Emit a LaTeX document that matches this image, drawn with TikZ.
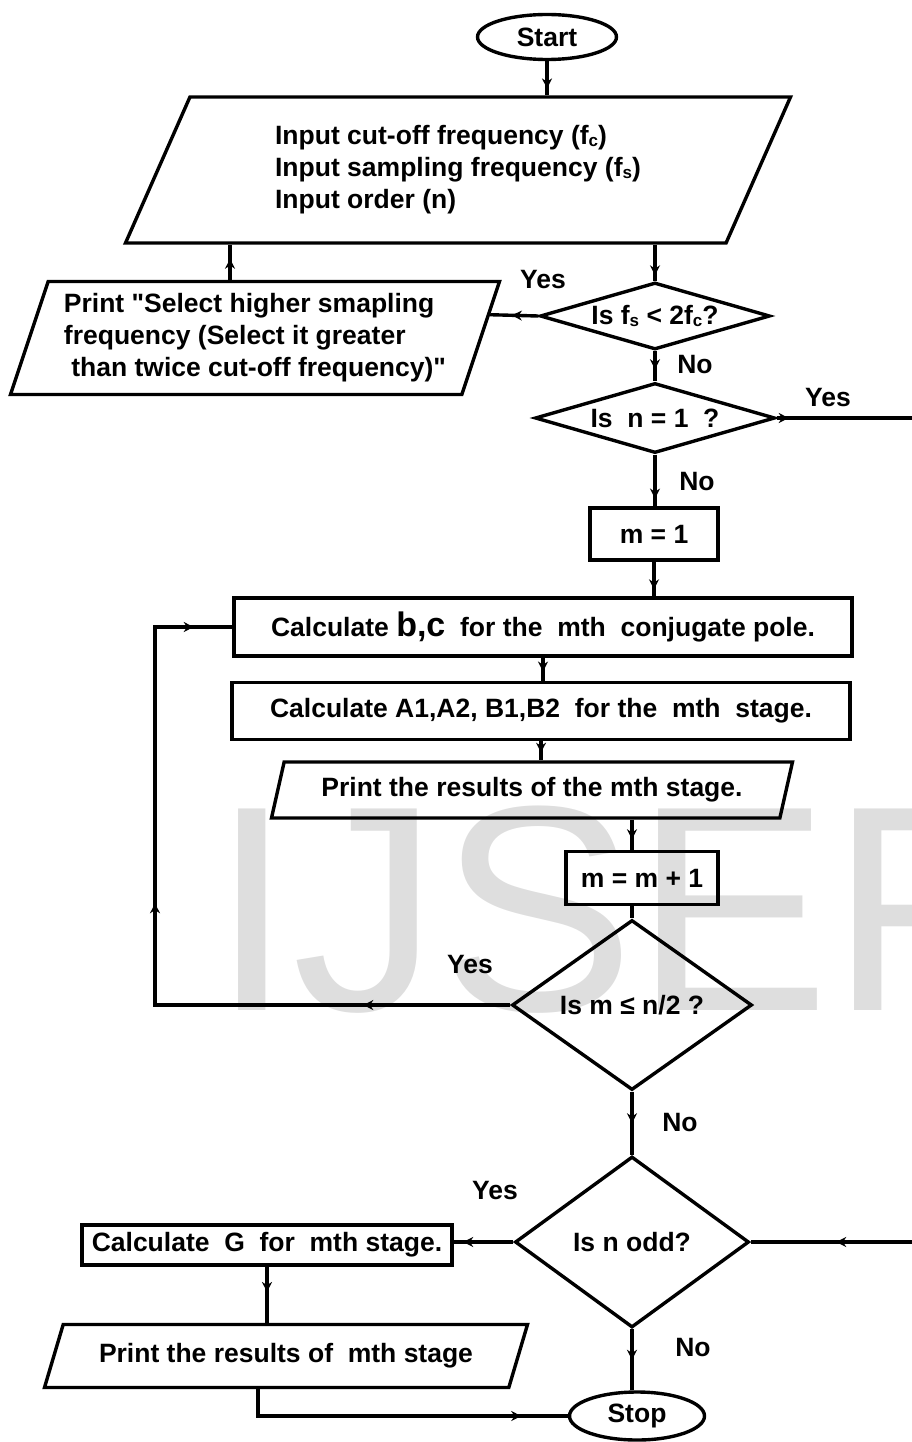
\documentclass[tikz,border=0pt]{standalone}
\usepackage{fontspec}
\setmainfont{Liberation Sans}[Ligatures=TeXOff]
\usetikzlibrary{shapes.geometric,arrows.meta,decorations.markings,calc}
\newcommand\lowidx[1]{\raisebox{-1.5pt}{\fontsize{17}{17}\selectfont #1}}
\tikzset{
  txt/.style={font=\fontsize{26.5}{32}\selectfont\bfseries},
  flow/.style={draw,line width=3.4pt},
  midtip/.style={postaction={decorate,decoration={markings,
      mark=at position #1 with {\arrow{Stealth[length=10pt,width=10pt]}}}}},
  box/.style={draw,line width=3.4pt,rectangle,inner sep=0pt,txt},
  iobox/.style={draw,line width=3.4pt,trapezium,trapezium stretches body=true,inner sep=0pt,txt},
  decide/.style={draw,line width=3.4pt,diamond,inner sep=0pt,txt},
  term/.style={draw,line width=3.4pt,ellipse,inner sep=0pt,txt},
  lbl/.style={inner sep=0pt,txt},
}
\begin{document}
\begin{tikzpicture}[x=1pt,y=-1pt]
\useasboundingbox (0,0) rectangle (912,1442);
% watermark
\begin{scope}
  \clip (0,0) rectangle (912,1442);
  \node[anchor=base west,inner sep=0pt,text=black!13,font=\fontsize{293}{293}\selectfont] (wmark) at (211,1010) {IJSER};
\end{scope}

% blocks
\node[term,minimum width=139pt,minimum height=45pt] (start) at (547,37) {Start};
\node[iobox,trapezium left angle=54,trapezium right angle=126,minimum width=665pt,minimum height=146pt,align=left] (input) at (458,170)
  {Input cut-off  frequency (f\lowidx{c})\\Input sampling frequency (f\lowidx{s})\\Input order (n)};
\node[decide,minimum width=230pt,minimum height=67pt] (dia1) at (655,316) {\makebox[0pt]{Is f\lowidx{s} < 2f\lowidx{c}?}};
\node[iobox,trapezium left angle=67,trapezium right angle=113,minimum width=489pt,minimum height=113pt,align=left] (print1) at (255,338)
  {Print "Select higher smapling\\frequency (Select it greater\\ \ than twice cut-off frequency)"};
\node[decide,minimum width=240pt,minimum height=70pt] (dia2) at (655,418) {\makebox[0pt]{Is \ n = 1 \ ?}};
\node[box,minimum width=128pt,minimum height=52pt] (m1) at (654,534) {m = 1};
\node[box,minimum width=618pt,minimum height=58pt] (calc1) at (543,627)
  {Calculate {\fontsize{34}{34}\selectfont b,c} \ for the \ mth \ conjugate pole.};
\node[box,minimum width=618pt,minimum height=57pt] (calc2) at (541,711)
  {Calculate A1,A2, B1,B2 \ for the \ mth \ stage.};
\node[iobox,trapezium left angle=63,trapezium right angle=117,minimum width=521pt,minimum height=56pt] (print2) at (532,790)
  {Print the results of the mth stage.};
\node[box,minimum width=152pt,minimum height=53pt] (mm) at (642,878) {m = m + 1};
\node[decide,minimum width=240pt,minimum height=170pt] (dia3) at (632,1005) {Is m ≤ n/2 ?};
\node[decide,minimum width=234pt,minimum height=171pt] (dia4) at (632,1242) {Is n odd?};
\node[box,minimum width=370pt,minimum height=40pt] (calcG) at (267,1245) {Calculate \ G \ for \ mth stage.};
\node[iobox,trapezium left angle=53,trapezium right angle=127,minimum width=483pt,minimum height=63pt] (print3) at (286,1356)
  {Print the results of \ mth stage};
\node[term,minimum width=135pt,minimum height=48pt] (stop) at (637,1416) {Stop};

% labels
\node[lbl] (yes1) at (543,280) {Yes};
\node[lbl] (no1) at (695,365) {No};
\node[lbl] (yes2) at (828,398) {Yes};
\node[lbl] (no2) at (697,482) {No};
\node[lbl] (yes3) at (470,965) {Yes};
\node[lbl] (no3) at (680,1122) {No};
\node[lbl] (yes4) at (495,1190) {Yes};
\node[lbl] (no4) at (693,1347) {No};

% helper points
\coordinate (pup) at ([xshift=-25pt]print1.north);
\coordinate (prnr) at ($(print1.top right corner)!0.3!(print1.bottom right corner)$);
\coordinate (redge1) at (912,418);
\coordinate (redge2) at (912,1242);
\coordinate (loopc) at (155,1005);
\coordinate (pdown) at ([xshift=-28pt]print3.south);

% connectors
\draw[flow,midtip=0.8] (start.south) -- (start.south |- input.north);
\draw[flow,midtip=0.85] (dia1.north |- input.south) -- (dia1.north);
\draw[flow,midtip=0.55] (dia1.west) -- (prnr);
\draw[flow,midtip=0.6] (pup) -- (pup |- input.south);
\draw[flow,midtip=0.6] (dia1.south) -- (dia2.north);
\draw[flow,midtip=12pt] (dia2.east) -- (redge1);
\draw[flow,midtip=0.85] (dia2.south) -- (dia2.south |- m1.north);
\draw[flow,midtip=0.8] (m1.south) -- (m1.south |- calc1.north);
\draw[flow,midtip=0.6] (calc1.south) -- (calc1.south |- calc2.north);
\draw[flow,midtip=0.6] (calc2.south) -- (calc2.south |- print2.north);
\draw[flow,midtip=0.65] (dia3.north |- print2.south) -- (dia3.north |- mm.north);
\draw[flow] (dia3.north |- mm.south) -- (dia3.north);
% loop back
\draw[flow,midtip=147pt,midtip=457pt,midtip=772pt] (dia3.west) -- (loopc) |- (calc1.west);
\draw[flow,midtip=0.5] (dia3.south) -- (dia4.north);
\draw[flow,midtip=0.47] (redge2) -- (dia4.east);
\draw[flow,midtip=0.84] (dia4.west) -- (dia4.west -| calcG.east);
\draw[flow,midtip=0.45] (calcG.south) -- (calcG.south |- print3.north);
\draw[flow,midtip=290pt] (pdown) |- (stop.west);
\draw[flow,midtip=0.5] (dia4.south) -- (dia4.south |- stop.north);
\end{tikzpicture}
\end{document}
